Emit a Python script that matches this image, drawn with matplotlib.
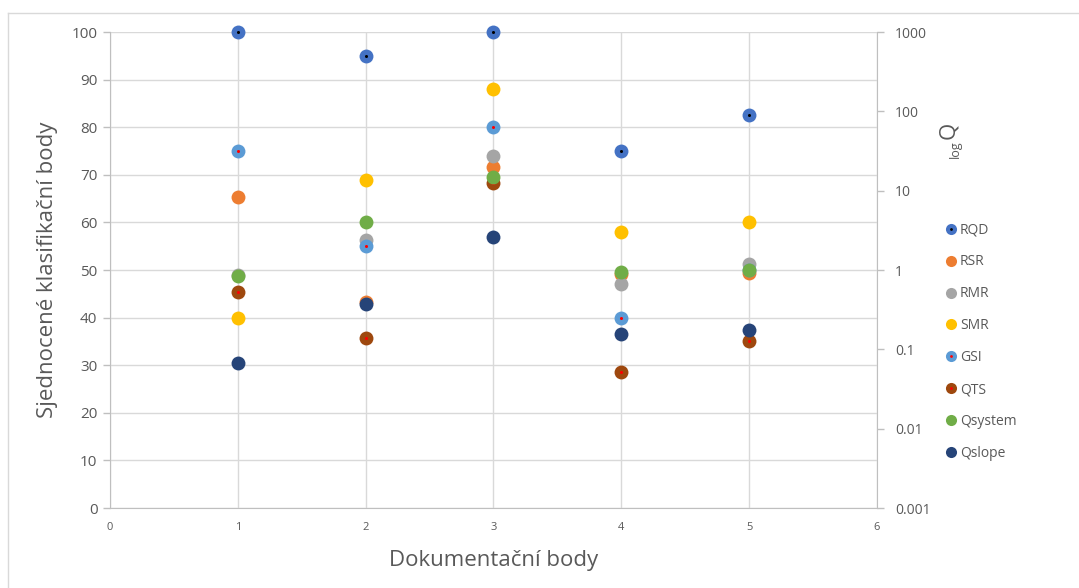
#!/usr/bin/env python3
"""Sjednocené klasifikační body v dokumentačních bodech (scatter, Excel styl)."""

import matplotlib
matplotlib.use("Agg")
import matplotlib.pyplot as plt
from matplotlib.lines import Line2D
from matplotlib.legend_handler import HandlerTuple

plt.rcParams["font.family"] = ["Open Sans", "DejaVu Sans"]

# Data — hodnoty (levá osa, 0–100)
points = [1, 2, 3, 4, 5]
series_names = ["RQD", "RSR", "RMR", "SMR", "GSI", "QTS", "Qsystem", "Qslope"]
rqd     = [100, 95, 100, 75, 82.5]
rsr     = [65.4, 43.2, 71.6, 49.2, 49.4]
rmr     = [49.0, 56.2, 74.0, 47.0, 51.2]
smr     = [40.0, 69.0, 88.0, 58.0, 60.0]
gsi     = [75.0, 55.0, 80.0, 40.0, 50.0]
qts     = [45.4, 35.8, 68.2, 28.6, 35.1]
qsystem = [48.8, 60.0, 69.6, 49.5, 50.1]
qslope  = [30.5, 42.8, 57.0, 36.6, 37.3]
values = [rqd, rsr, rmr, smr, gsi, qts, qsystem, qslope]

colors = ["#4472C4", "#ED7D31", "#A5A5A5", "#FFC000",
          "#5B9BD5", "#9E480E", "#70AD47", "#264478"]
# tečka uprostřed markeru (None = bez tečky)
dots = ["black", None, None, None, "red", "red", None, None]

right_ticks = [0.001, 0.01, 0.1, 1, 10, 100, 1000]
right_labels = ["0.001", "0.01", "0.1", "1", "10", "100", "1000"]

GRID = "#D9D9D9"
AXIS = "#BFBFBF"
TXT = "#595959"

fig = plt.figure(figsize=(10.79, 5.88), dpi=100)
ax = fig.add_axes([110 / 1079, 1 - 508 / 588, 767 / 1079, 476 / 588])

# pravá logaritmická osa Q (pod body)
ax2 = ax.twinx()
ax2.set_yscale("log")
ax2.set_ylim(0.001, 1000)
ax2.set_yticks(right_ticks)
ax2.set_yticklabels(right_labels)
ax2.minorticks_off()
for s in ["top", "left", "bottom"]:
    ax2.spines[s].set_visible(False)
ax2.spines["right"].set_color(AXIS)
ax2.tick_params(axis="y", colors=AXIS, labelcolor=TXT, labelsize=10,
                length=5, width=1, pad=8)
ax.set_zorder(ax2.get_zorder() + 1)
ax.patch.set_visible(False)

handles = []
for i, (name, vals, col, dot) in enumerate(zip(series_names, values, colors, dots)):
    z = 3 + 2 * i  # pozdější řada překrývá dřívější (i s tečkou)
    ax.plot(points, vals, linestyle="none", marker="o", markersize=10,
            color=col, markeredgewidth=0, zorder=z, clip_on=False)
    h = Line2D([], [], linestyle="none", marker="o", markersize=8,
               color=col, markeredgewidth=0)
    if dot:
        ax.plot(points, vals, linestyle="none", marker="o", markersize=2.2,
                color=dot, markeredgewidth=0, zorder=z + 1, clip_on=False)
        hd = Line2D([], [], linestyle="none", marker="o", markersize=2,
                    color=dot, markeredgewidth=0)
        handles.append((h, hd))
    else:
        handles.append(h)

ax.set_xlim(0, 6)
ax.set_ylim(0, 100)
ax.set_xticks(range(0, 7))
ax.set_yticks(range(0, 101, 10))
ax.grid(True, color=GRID, linewidth=1)
ax.set_axisbelow(True)

for s in ["top", "right"]:
    ax.spines[s].set_visible(False)
ax.spines["left"].set_color(AXIS)
ax.spines["bottom"].set_color(AXIS)
ax.tick_params(axis="y", colors=AXIS, labelcolor=TXT, labelsize=11,
               length=5, width=1, pad=4)
ax.tick_params(axis="x", colors=AXIS, labelcolor=TXT, labelsize=8,
               length=0, pad=10)

ax.set_xlabel("Dokumentační body", fontsize=16, color=TXT, labelpad=12)
ax.set_ylabel("Sjednocené klasifikační body", fontsize=16, color=TXT,
              labelpad=10)

# popisek pravé osy: "log" jako dolní index před Q
fig.text(949 / 1079, 1 - 130 / 588, "Q", rotation=90, fontsize=16,
         color=TXT, ha="center", va="center")
fig.text(955 / 1079, 1 - 149 / 588, "log", rotation=90, fontsize=9,
         color=TXT, ha="center", va="center")

leg = fig.legend(handles, series_names, loc="upper left",
                 bbox_to_anchor=(932 / 1079, 1 - 210 / 588),
                 frameon=False, fontsize=10, labelspacing=1.22,
                 handletextpad=0.1, handlelength=1.0,
                 handler_map={tuple: HandlerTuple(ndivide=1, pad=0)})
for t in leg.get_texts():
    t.set_color(TXT)

# rámeček grafu (Excel)
fig.add_artist(Line2D([8 / 1079, 8 / 1079], [0, 1 - 13 / 588],
                      transform=fig.transFigure, color=GRID, linewidth=1))
fig.add_artist(Line2D([8 / 1079, 1], [1 - 13 / 588, 1 - 13 / 588],
                      transform=fig.transFigure, color=GRID, linewidth=1))

fig.savefig("out.png", dpi=100)
